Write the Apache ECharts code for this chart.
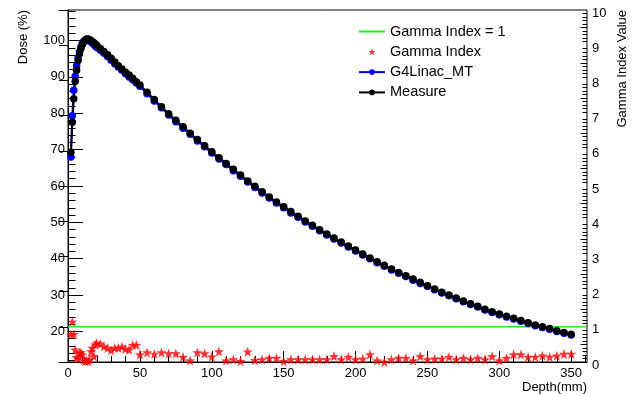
<!DOCTYPE html>
<html>
<head>
<meta charset="utf-8">
<title>Depth dose</title>
<script src="https://cdn.jsdelivr.net/npm/echarts@6/dist/echarts.min.js"></script>
<style>
    html, body { margin: 0; padding: 0; background: #fff; }
    #pdd-chart { width: 634px; height: 395px; }
</style>
</head>
<body>
<div id="pdd-chart"></div>
<script>
// depth in mm
var depth = [2, 3, 4, 5, 6, 7, 8, 9, 10, 11, 12, 13, 14, 15, 16, 17, 18, 19, 20,
    22.5, 25, 27.5, 30, 32.5, 35, 37.5, 40, 42.5, 45, 47.5, 50,
    55, 60, 65, 70, 75, 80, 85, 90, 95, 100,
    105, 110, 115, 120, 125, 130, 135, 140, 145, 150,
    155, 160, 165, 170, 175, 180, 185, 190, 195, 200,
    205, 210, 215, 220, 225, 230, 235, 240, 245, 250,
    255, 260, 265, 270, 275, 280, 285, 290, 295, 300,
    305, 310, 315, 320, 325, 330, 335, 340, 345, 350];

// Measure (%)
var measure = [69.3, 77.5, 84.0, 88.8, 91.8, 94.5, 96.4, 97.8, 98.9, 99.6, 100.1, 100.4, 100.4, 100.2, 100.0, 99.7, 99.4, 99.0, 98.7,
    97.8, 97.0, 96.1, 95.1, 94.1, 93.1, 92.2, 91.3, 90.5, 89.6, 88.7, 87.8,
    85.8, 83.8, 81.8, 79.9, 78.1, 76.3, 74.5, 72.8, 71.1, 69.4,
    67.8, 66.2, 64.6, 63.0, 61.4, 59.9, 58.4, 57.0, 55.6, 54.3,
    53.0, 51.7, 50.4, 49.2, 48.0, 46.8, 45.7, 44.6, 43.5, 42.4,
    41.3, 40.2, 39.2, 38.2, 37.2, 36.2, 35.3, 34.4, 33.5, 32.6,
    31.7, 30.8, 30.0, 29.2, 28.4, 27.6, 26.9, 26.1, 25.4, 24.8,
    24.2, 23.6, 23.0, 22.4, 21.8, 21.3, 20.8, 20.2, 19.7, 19.2];

// G4Linac_MT (%)
var g4linac = [68.0, 79.3, 86.3, 90.2, 93.1, 95.3, 96.9, 98.2, 99.2, 99.8, 100.1, 100.2, 100.1, 99.9, 99.6, 99.3, 98.9, 98.5, 98.1,
    97.3, 96.5, 95.6, 94.6, 93.6, 92.7, 91.8, 90.9, 90.0, 89.2, 88.3, 87.4,
    85.4, 83.4, 81.5, 79.5, 77.7, 75.9, 74.2, 72.4, 70.8, 69.1,
    67.4, 65.9, 64.2, 62.7, 61.1, 59.6, 58.1, 56.7, 55.3, 54.0,
    52.6, 51.4, 50.1, 48.9, 47.7, 46.5, 45.4, 44.3, 43.2, 42.1,
    41.0, 40.0, 38.9, 37.9, 36.9, 36.0, 35.1, 34.1, 33.2, 32.4,
    31.5, 30.6, 29.8, 29.0, 28.2, 27.4, 26.7, 25.9, 25.2, 24.6,
    24.0, 23.4, 22.8, 22.2, 21.6, 21.1, 20.6, 20.0, 19.5, 19.0];

// gamma index at each depth
var gammaIndex = [0.79, 1.14, 0.79, 0.35, 0.14, 0.10, 0.26, 0.27, 0.21, 0.05, 0.02, 0.04, 0.02, 0.07, 0.30, 0.40, 0.16, 0.49, 0.54,
    0.52, 0.44, 0.40, 0.33, 0.40, 0.40, 0.43, 0.37, 0.35, 0.48, 0.48, 0.21,
    0.27, 0.23, 0.27, 0.24, 0.24, 0.14, 0.04, 0.27, 0.24, 0.15,
    0.30, 0.04, 0.07, 0.02, 0.29, 0.05, 0.07, 0.11, 0.11, 0.02,
    0.07, 0.07, 0.07, 0.07, 0.07, 0.07, 0.16, 0.07, 0.14, 0.07,
    0.09, 0.21, 0.04, 0.00, 0.07, 0.11, 0.11, 0.04, 0.16, 0.07,
    0.09, 0.09, 0.14, 0.07, 0.11, 0.07, 0.11, 0.07, 0.16, 0.04,
    0.11, 0.21, 0.21, 0.14, 0.14, 0.18, 0.14, 0.18, 0.23, 0.23];

var gammaLimit = 1;

// tick labels
var depthTicks = [0, 50, 100, 150, 200, 250, 300, 350];
var doseTicks = [20, 30, 40, 50, 60, 70, 80, 90, 100];
var gammaTicks = [0, 1, 2, 3, 4, 5, 6, 7, 8, 9, 10];

var xMin = 0, xMax = 361;
var doseMin = 11.6, doseMax = 108.4;
var gammaMin = 0, gammaMax = 10;

(function(w) {
    "use strict";
    var font = "'Liberation Sans', Arial, Helvetica, sans-serif";
    var starPath = 'path://M0,-10 L2.35,-3.24 L9.51,-3.09 L3.8,1.24 L5.88,8.09 L0,4 L-5.88,8.09 L-3.8,1.24 L-9.51,-3.09 L-2.35,-3.24 Z';
    var chart;

    // minor ticks between the labelled ones
    function minorTicks(from, to, step, major) {
        var out = [];
        for (var v = from; v <= to + 1e-9; v += step) {
            var r = Math.round(v * 10) / 10;
            if (major.indexOf(r) < 0) out.push(r);
        }
        return out;
    }

    function pairs(ys) {
        return depth.map(function(d, i) { return [d, ys[i]]; });
    }

    function tickAxis(pos, min, max, values, len) {
        return {
            type: 'value',
            position: pos,
            min: min,
            max: max,
            axisLine: {show: false},
            axisTick: {inside: true, length: len, customValues: values, lineStyle: {color: '#000'}},
            axisLabel: {show: false},
            splitLine: {show: false}
        };
    }

    function pdd_chart(id) {
        chart = echarts.init(document.getElementById(id), null, {renderer: 'canvas'});
        var depthMinor = minorTicks(10, 360, 10, depthTicks);
        var doseMinor = minorTicks(12, 108, 2, doseTicks);
        var gammaMinor = minorTicks(0.1, 9.9, 0.1, gammaTicks);
        var gammaHalf = [], gammaSmall = [];
        gammaMinor.forEach(function(v) {
            if (Math.abs(v * 10 % 10 - 5) < 1e-6) gammaHalf.push(v); else gammaSmall.push(v);
        });
        var option = {
            animation: false,
            textStyle: {fontFamily: font},
            grid: {
                left: 68,
                right: 47,
                top: 10,
                bottom: 33,
                show: true,
                borderColor: '#000',
                borderWidth: 1
            },
            legend: {
                orient: 'vertical',
                left: 353,
                top: 19,
                itemWidth: 26,
                itemHeight: 7,
                itemGap: 5.3,
                textStyle: {fontSize: 14.5, lineHeight: 15, color: '#000', fontFamily: font},
                data: ['Gamma Index = 1', 'Gamma Index', 'G4Linac_MT', 'Measure']
            },
            xAxis: [
                {
                    type: 'value',
                    position: 'bottom',
                    min: xMin,
                    max: xMax,
                    axisLine: {lineStyle: {color: '#000', width: 1}},
                    axisTick: {inside: true, length: 11, customValues: depthTicks, lineStyle: {color: '#000'}},
                    axisLabel: {customValues: depthTicks, margin: 5, fontSize: 13, color: '#000', fontFamily: font},
                    splitLine: {show: false}
                },
                tickAxis('bottom', xMin, xMax, depthMinor, 6)
            ],
            yAxis: [
                {
                    type: 'value',
                    position: 'left',
                    min: doseMin,
                    max: doseMax,
                    axisLine: {show: true, lineStyle: {color: '#000', width: 1}},
                    axisTick: {inside: true, length: 15, customValues: doseTicks, lineStyle: {color: '#000'}},
                    axisLabel: {customValues: doseTicks, margin: 3, fontSize: 13, color: '#000', fontFamily: font},
                    splitLine: {show: false}
                },
                {
                    type: 'value',
                    position: 'right',
                    min: gammaMin,
                    max: gammaMax,
                    axisLine: {show: true, lineStyle: {color: '#000', width: 1}},
                    axisTick: {inside: true, length: 9, customValues: gammaTicks, lineStyle: {color: '#000'}},
                    // labels sit a little below their ticks, as in ROOT
                    axisLabel: {customValues: gammaTicks, margin: 5, fontSize: 13, color: '#000', fontFamily: font,
                        verticalAlign: 'top', lineHeight: 6},
                    splitLine: {show: false}
                },
                tickAxis('left', doseMin, doseMax, doseMinor, 7.5),
                tickAxis('right', gammaMin, gammaMax, gammaSmall, 4.5),
                tickAxis('right', gammaMin, gammaMax, gammaHalf, 6.5)
            ],
            graphic: [
                {
                    type: 'text', x: 23, y: 10, rotation: Math.PI / 2,
                    style: {text: 'Dose (%)', fontSize: 13, fontFamily: font, fill: '#000', align: 'right', verticalAlign: 'middle'}
                },
                {
                    type: 'text', x: 622, y: 10, rotation: Math.PI / 2,
                    style: {text: 'Gamma Index Value', fontSize: 13, fontFamily: font, fill: '#000', align: 'right', verticalAlign: 'middle'}
                },
                {
                    type: 'text', x: 587, y: 387,
                    style: {text: 'Depth(mm)', fontSize: 13, fontFamily: font, fill: '#000', align: 'right', verticalAlign: 'middle'}
                }
            ],
            series: [
                {
                    name: 'Gamma Index = 1',
                    type: 'line',
                    xAxisIndex: 0,
                    yAxisIndex: 1,
                    symbol: 'none',
                    data: [[xMin, gammaLimit], [xMax, gammaLimit]],
                    lineStyle: {color: '#22ee22', width: 1.6},
                    itemStyle: {color: '#22ee22', opacity: 0}
                },
                {
                    name: 'Gamma Index',
                    type: 'scatter',
                    xAxisIndex: 0,
                    yAxisIndex: 1,
                    symbol: starPath,
                    symbolSize: 10,
                    clip: false,
                    data: pairs(gammaIndex),
                    itemStyle: {color: '#ff0000'}
                },
                {
                    name: 'G4Linac_MT',
                    type: 'line',
                    xAxisIndex: 0,
                    yAxisIndex: 0,
                    symbol: 'circle',
                    symbolSize: 7.5,
                    data: pairs(g4linac),
                    lineStyle: {color: '#0000ff', width: 2},
                    itemStyle: {color: '#0000ff'}
                },
                {
                    name: 'Measure',
                    type: 'line',
                    xAxisIndex: 0,
                    yAxisIndex: 0,
                    symbol: 'circle',
                    symbolSize: 7.5,
                    data: pairs(measure),
                    lineStyle: {color: '#000', width: 2},
                    itemStyle: {color: '#000'}
                }
            ]
        };
        chart.setOption(option);
    }

    pdd_chart('pdd-chart');
    w.addEventListener('resize', function() { chart.resize(); });
})(window);
</script>
</body>
</html>
